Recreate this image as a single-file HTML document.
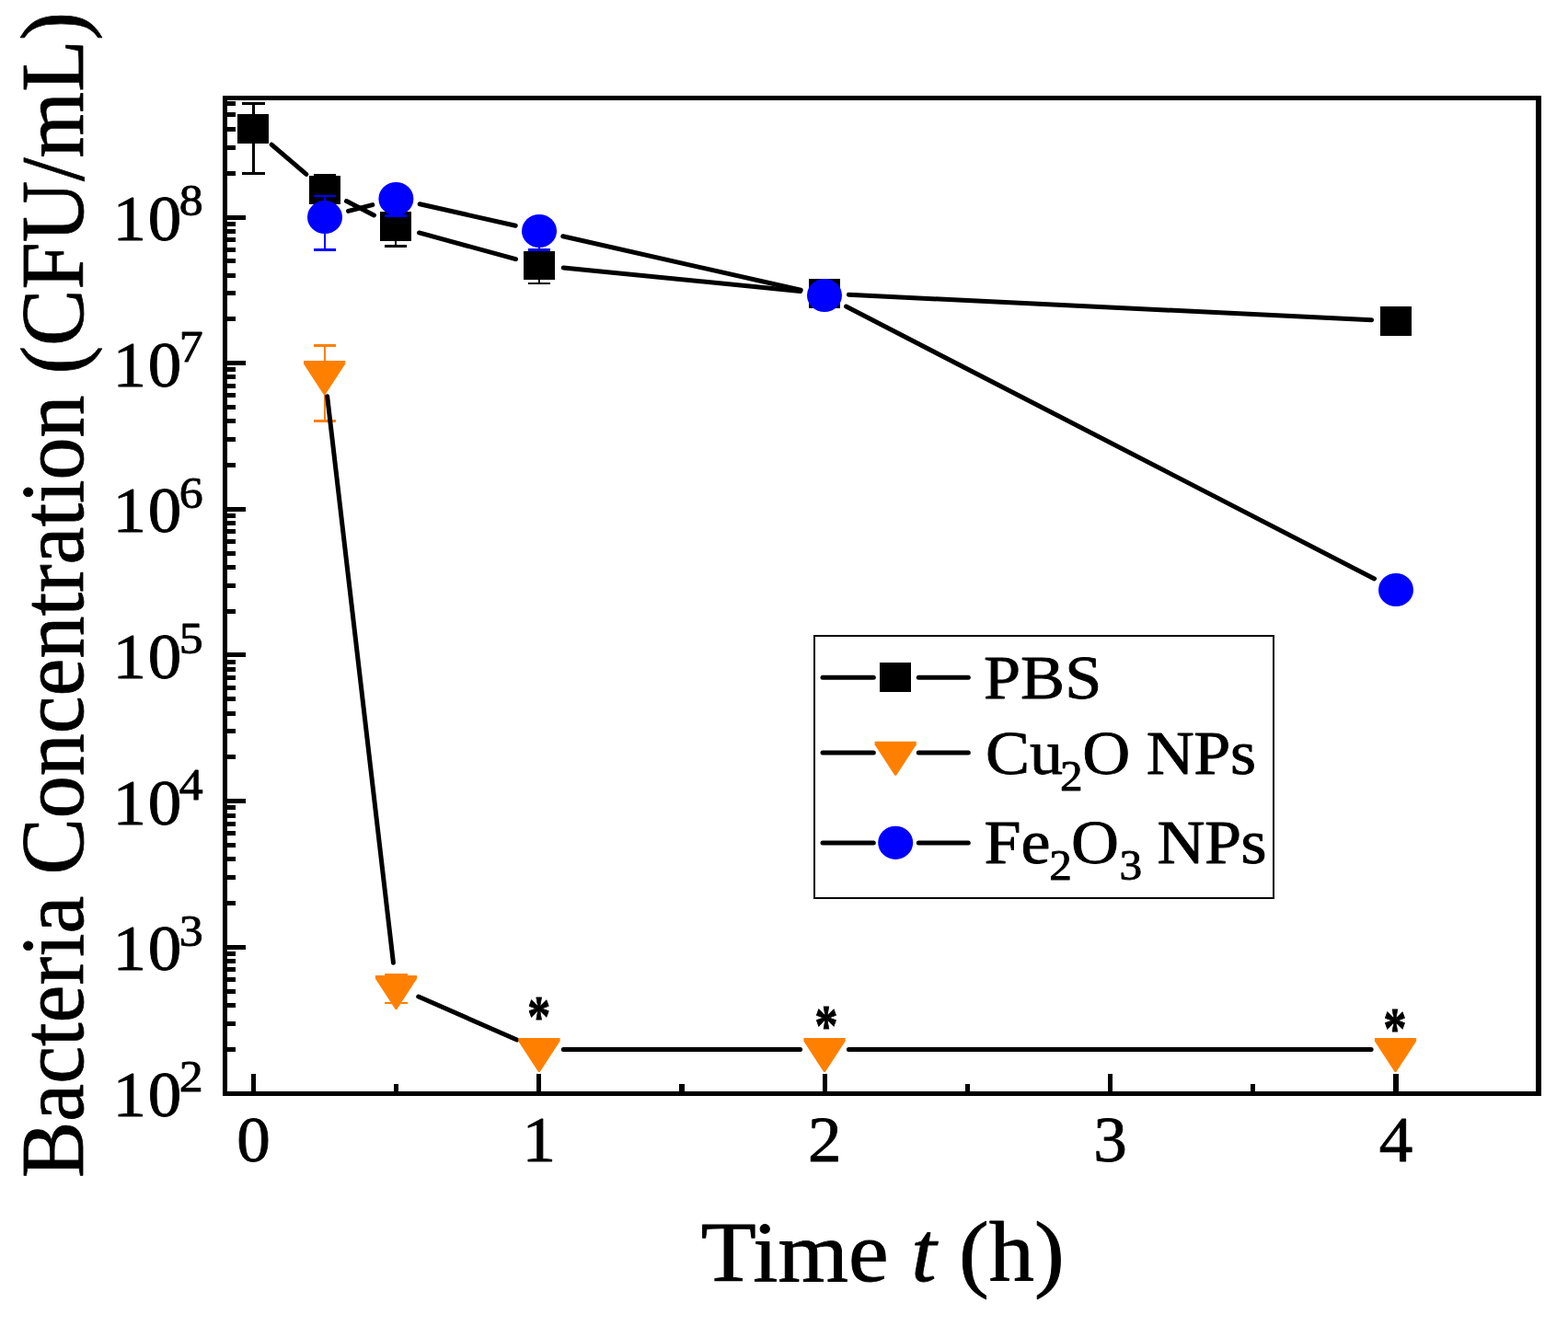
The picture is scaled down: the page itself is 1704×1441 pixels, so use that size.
<!DOCTYPE html>
<html lang="en"><head><meta charset="utf-8"><title>Bacteria Concentration vs Time</title>
<style>html,body{margin:0;padding:0;background:#fff;}body{width:1704px;height:1441px;overflow:hidden;}svg{display:block;}text{font-family:"Liberation Serif","DejaVu Serif",serif;fill:#000;stroke:#000;stroke-width:0.85px;stroke-linejoin:round;}</style>
</head><body>
<svg width="1704" height="1441" viewBox="0 0 1704 1441">
<rect x="0" y="0" width="1704" height="1441" fill="#fff"/>
<g fill="#000" shape-rendering="crispEdges">
<rect x="244" y="1138" width="12" height="5"/>
<rect x="244" y="1110" width="12" height="5"/>
<rect x="244" y="1090" width="12" height="5"/>
<rect x="244" y="1075" width="12" height="5"/>
<rect x="244" y="1062" width="12" height="5"/>
<rect x="244" y="1051" width="12" height="5"/>
<rect x="244" y="1042" width="12" height="5"/>
<rect x="244" y="1034" width="12" height="5"/>
<rect x="244" y="1027" width="23" height="5"/>
<rect x="244" y="979" width="12" height="5"/>
<rect x="244" y="951" width="12" height="5"/>
<rect x="244" y="931" width="12" height="5"/>
<rect x="244" y="916" width="12" height="5"/>
<rect x="244" y="903" width="12" height="5"/>
<rect x="244" y="893" width="12" height="5"/>
<rect x="244" y="884" width="12" height="5"/>
<rect x="244" y="875" width="12" height="5"/>
<rect x="244" y="868" width="23" height="5"/>
<rect x="244" y="820" width="12" height="5"/>
<rect x="244" y="792" width="12" height="5"/>
<rect x="244" y="773" width="12" height="5"/>
<rect x="244" y="757" width="12" height="5"/>
<rect x="244" y="745" width="12" height="5"/>
<rect x="244" y="734" width="12" height="5"/>
<rect x="244" y="725" width="12" height="5"/>
<rect x="244" y="717" width="12" height="5"/>
<rect x="244" y="709" width="23" height="5"/>
<rect x="244" y="662" width="12" height="5"/>
<rect x="244" y="634" width="12" height="5"/>
<rect x="244" y="614" width="12" height="5"/>
<rect x="244" y="599" width="12" height="5"/>
<rect x="244" y="586" width="12" height="5"/>
<rect x="244" y="575" width="12" height="5"/>
<rect x="244" y="566" width="12" height="5"/>
<rect x="244" y="558" width="12" height="5"/>
<rect x="244" y="551" width="23" height="5"/>
<rect x="244" y="503" width="12" height="5"/>
<rect x="244" y="475" width="12" height="5"/>
<rect x="244" y="455" width="12" height="5"/>
<rect x="244" y="440" width="12" height="5"/>
<rect x="244" y="427" width="12" height="5"/>
<rect x="244" y="417" width="12" height="5"/>
<rect x="244" y="407" width="12" height="5"/>
<rect x="244" y="399" width="12" height="5"/>
<rect x="244" y="392" width="23" height="5"/>
<rect x="244" y="344" width="12" height="5"/>
<rect x="244" y="316" width="12" height="5"/>
<rect x="244" y="297" width="12" height="5"/>
<rect x="244" y="281" width="12" height="5"/>
<rect x="244" y="269" width="12" height="5"/>
<rect x="244" y="258" width="12" height="5"/>
<rect x="244" y="249" width="12" height="5"/>
<rect x="244" y="241" width="12" height="5"/>
<rect x="244" y="234" width="23" height="5"/>
<rect x="244" y="186" width="12" height="5"/>
<rect x="244" y="158" width="12" height="5"/>
<rect x="244" y="138" width="12" height="5"/>
<rect x="244" y="122" width="12" height="5"/>
<rect x="244" y="110" width="12" height="5"/>
<rect x="273" y="1167" width="5" height="22"/>
<rect x="428" y="1178" width="5" height="11"/>
<rect x="583" y="1167" width="5" height="22"/>
<rect x="738" y="1178" width="6" height="11"/>
<rect x="894" y="1167" width="5" height="22"/>
<rect x="1049" y="1178" width="5" height="11"/>
<rect x="1204" y="1167" width="5" height="22"/>
<rect x="1359" y="1178" width="5" height="11"/>
<rect x="1514" y="1167" width="6" height="22"/>
<rect x="242" y="104" width="1433" height="5"/>
<rect x="242" y="1186" width="1433" height="5"/>
<rect x="242" y="104" width="5" height="1087"/>
<rect x="1669" y="104" width="6" height="1087"/>
</g>
<text transform="translate(275.45 1262.00) scale(1.0600 1)" font-size="69.00" text-anchor="middle">0</text>
<text transform="translate(585.85 1262.00) scale(1.0600 1)" font-size="69.00" text-anchor="middle">1</text>
<text transform="translate(896.25 1262.00) scale(1.0600 1)" font-size="69.00" text-anchor="middle">2</text>
<text transform="translate(1206.65 1262.00) scale(1.0600 1)" font-size="69.00" text-anchor="middle">3</text>
<text transform="translate(1517.05 1262.00) scale(1.0600 1)" font-size="69.00" text-anchor="middle">4</text>
<text transform="translate(122.40 1213.10) scale(1.0600 1)" font-size="69.00"><tspan dx="0 1.8">10</tspan><tspan font-size="49.00" dx="-2.5" dy="-26.80">2</tspan></text>
<text transform="translate(122.40 1054.41) scale(1.0600 1)" font-size="69.00"><tspan dx="0 1.8">10</tspan><tspan font-size="49.00" dx="-2.5" dy="-26.80">3</tspan></text>
<text transform="translate(122.40 895.72) scale(1.0600 1)" font-size="69.00"><tspan dx="0 1.8">10</tspan><tspan font-size="49.00" dx="-2.5" dy="-26.80">4</tspan></text>
<text transform="translate(122.40 737.03) scale(1.0600 1)" font-size="69.00"><tspan dx="0 1.8">10</tspan><tspan font-size="49.00" dx="-2.5" dy="-26.80">5</tspan></text>
<text transform="translate(122.40 578.34) scale(1.0600 1)" font-size="69.00"><tspan dx="0 1.8">10</tspan><tspan font-size="49.00" dx="-2.5" dy="-26.80">6</tspan></text>
<text transform="translate(122.40 419.65) scale(1.0600 1)" font-size="69.00"><tspan dx="0 1.8">10</tspan><tspan font-size="49.00" dx="-2.5" dy="-26.80">7</tspan></text>
<text transform="translate(122.40 260.96) scale(1.0600 1)" font-size="69.00"><tspan dx="0 1.8">10</tspan><tspan font-size="49.00" dx="-2.5" dy="-26.80">8</tspan></text>
<text transform="translate(959.20 1391.80) scale(1.0510 1)" font-size="93.50" text-anchor="middle">Time <tspan font-style="italic">t</tspan> (h)</text>
<text transform="translate(90.00 646.50) rotate(-90) scale(0.9200 0.9770)" font-size="100" text-anchor="middle">Bacteria Concentration (CFU/mL)</text>
<g fill="#000" shape-rendering="crispEdges"><rect x="274" y="111" width="3" height="79"/><rect x="263" y="111" width="25" height="3"/><rect x="263" y="187" width="25" height="3"/></g>
<g fill="#000" shape-rendering="crispEdges"><rect x="352" y="189" width="2" height="34"/><rect x="341" y="189" width="24" height="2"/><rect x="341" y="220" width="24" height="3"/></g>
<g fill="#000" shape-rendering="crispEdges"><rect x="429" y="230" width="2" height="39"/><rect x="418" y="230" width="24" height="3"/><rect x="418" y="266" width="24" height="3"/></g>
<g fill="#000" shape-rendering="crispEdges"><rect x="585" y="272" width="2" height="37"/><rect x="574" y="272" width="24" height="3"/><rect x="574" y="307" width="24" height="2"/></g>
<g stroke="#000" stroke-width="5" stroke-linecap="round" fill="none">
<line x1="295.09" y1="157.13" x2="332.91" y2="189.37"/>
<line x1="376.49" y1="218.55" x2="406.51" y2="233.95"/>
<line x1="455.47" y1="252.94" x2="560.53" y2="281.56"/>
<line x1="612.27" y1="291.08" x2="869.73" y2="316.42"/>
<line x1="922.37" y1="320.27" x2="1490.63" y2="347.73"/>
</g>
<rect x="258" y="124" width="34" height="32" fill="#000" shape-rendering="crispEdges"/>
<rect x="336" y="191" width="34" height="31" fill="#000" shape-rendering="crispEdges"/>
<rect x="413" y="230" width="34" height="32" fill="#000" shape-rendering="crispEdges"/>
<rect x="569" y="273" width="34" height="31" fill="#000" shape-rendering="crispEdges"/>
<rect x="879" y="303" width="34" height="32" fill="#000" shape-rendering="crispEdges"/>
<rect x="1500" y="333" width="34" height="32" fill="#000" shape-rendering="crispEdges"/>
<g fill="#ff8000" shape-rendering="crispEdges"><rect x="352" y="374" width="2" height="85"/><rect x="341" y="374" width="24" height="3"/><rect x="341" y="456" width="24" height="3"/></g>
<g fill="#ff8000" shape-rendering="crispEdges"><rect x="429" y="1058" width="2" height="33"/><rect x="418" y="1058" width="25" height="2"/><rect x="418" y="1089" width="25" height="2"/></g>
<g stroke="#000" stroke-width="5" stroke-linecap="round" fill="none">
<line x1="355.66" y1="430.72" x2="427.44" y2="1046.28"/>
<line x1="454.69" y1="1083.08" x2="561.71" y2="1129.92"/>
<line x1="612.30" y1="1140.50" x2="869.60" y2="1140.50"/>
<line x1="922.40" y1="1140.50" x2="1490.10" y2="1140.50"/>
</g>
<polygon points="330.00,392.00 375.20,392.00 375.20,395.40 353.40,429.00 351.80,429.00 330.00,395.40" fill="#ff8000"/>
<polygon points="407.90,1060.00 453.10,1060.00 453.10,1063.40 431.30,1097.00 429.70,1097.00 407.90,1063.40" fill="#ff8000"/>
<polygon points="563.30,1128.00 608.50,1128.00 608.50,1131.40 586.70,1165.00 585.10,1165.00 563.30,1131.40" fill="#ff8000"/>
<polygon points="873.40,1128.00 918.60,1128.00 918.60,1131.40 896.80,1165.00 895.20,1165.00 873.40,1131.40" fill="#ff8000"/>
<polygon points="1493.90,1128.00 1539.10,1128.00 1539.10,1131.40 1517.30,1165.00 1515.70,1165.00 1493.90,1131.40" fill="#ff8000"/>
<g fill="#0000ff" shape-rendering="crispEdges"><rect x="352" y="212" width="2" height="61"/><rect x="341" y="212" width="24" height="2"/><rect x="341" y="270" width="24" height="3"/></g>
<g fill="#0000ff" shape-rendering="crispEdges"><rect x="429" y="202" width="2" height="34"/><rect x="418" y="202" width="24" height="3"/><rect x="418" y="233" width="24" height="3"/></g>
<g fill="#0000ff" shape-rendering="crispEdges"><rect x="585" y="238" width="2" height="35"/><rect x="574" y="238" width="24" height="3"/><rect x="574" y="270" width="24" height="3"/></g>
<g stroke="#000" stroke-width="5" stroke-linecap="round" fill="none">
<line x1="378.56" y1="229.40" x2="404.84" y2="222.60"/>
<line x1="456.16" y1="221.79" x2="560.24" y2="245.21"/>
<line x1="611.75" y1="256.81" x2="870.25" y2="315.19"/>
<line x1="919.47" y1="333.09" x2="1493.53" y2="628.91"/>
</g>
<ellipse cx="353.00" cy="236.00" rx="19.00" ry="18.10" fill="#0000ff"/>
<ellipse cx="430.40" cy="216.00" rx="19.00" ry="18.10" fill="#0000ff"/>
<ellipse cx="586.00" cy="251.00" rx="19.00" ry="18.10" fill="#0000ff"/>
<ellipse cx="896.00" cy="321.00" rx="19.00" ry="18.10" fill="#0000ff"/>
<ellipse cx="1517.00" cy="641.00" rx="19.00" ry="18.10" fill="#0000ff"/>
<text transform="translate(585.60 1125.70) scale(0.7970 1)" font-size="63.60" text-anchor="middle" font-weight="bold">*</text>
<text transform="translate(898.00 1135.70) scale(0.7970 1)" font-size="63.60" text-anchor="middle" font-weight="bold">*</text>
<text transform="translate(1516.00 1138.60) scale(0.7970 1)" font-size="63.60" text-anchor="middle" font-weight="bold">*</text>
<rect x="885" y="691" width="499" height="285" fill="#fff" stroke="#000" stroke-width="2" shape-rendering="crispEdges"/>
<g stroke="#000" stroke-width="5" stroke-linecap="round" fill="none">
<line x1="894.00" y1="736.20" x2="949.30" y2="736.20"/>
<line x1="998.30" y1="736.20" x2="1052.30" y2="736.20"/>
<line x1="894.00" y1="818.00" x2="949.30" y2="818.00"/>
<line x1="998.30" y1="818.00" x2="1052.30" y2="818.00"/>
<line x1="894.00" y1="915.90" x2="949.30" y2="915.90"/>
<line x1="998.30" y1="915.90" x2="1052.30" y2="915.90"/>
</g>
<rect x="956" y="720" width="34" height="32" fill="#000" shape-rendering="crispEdges"/>
<polygon points="950.60,805.80 995.80,805.80 995.80,809.20 974.00,842.80 972.40,842.80 950.60,809.20" fill="#ff8000"/>
<ellipse cx="973.20" cy="915.80" rx="19.00" ry="18.10" fill="#0000ff"/>
<text transform="translate(1069.00 758.70) scale(1.0600 1)" font-size="68.00" text-anchor="start">PBS</text>
<text transform="translate(1071.00 841.10) scale(1.0600 1)" font-size="68.00">Cu<tspan font-size="46.50" dx="-3" dy="17.5">2</tspan><tspan dx="-0.3 0 -0.6 -0.4 -0.3" dy="-17.5">O NPs</tspan></text>
<text transform="translate(1069.40 938.40) scale(1.0600 1)" font-size="68.00">Fe<tspan font-size="46.50" dx="-1.2" dy="17.5">2</tspan><tspan dx="-0.9" dy="-17.5">O</tspan><tspan font-size="46.50" dx="0.6" dy="17.5">3</tspan><tspan dx="-0.2 -1.5 -0.5 -0.4" dy="-17.5"> NPs</tspan></text>
</svg>
</body></html>
